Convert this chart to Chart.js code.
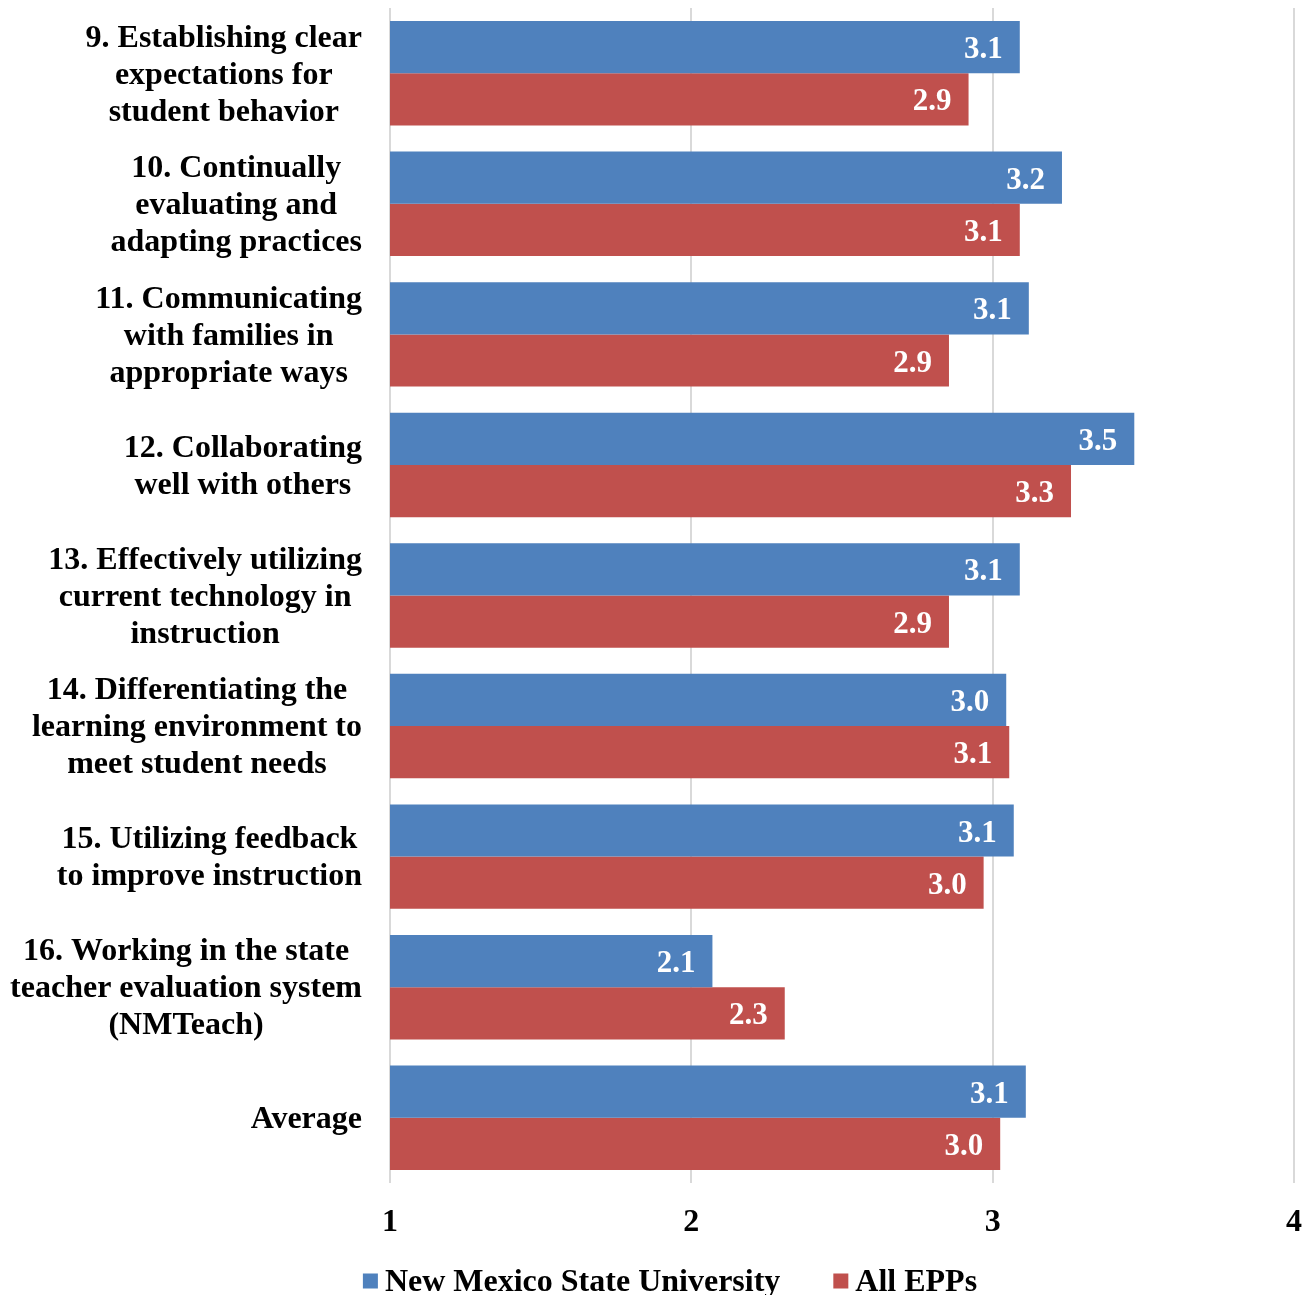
<!DOCTYPE html>
<html>
<head>
<meta charset="utf-8">
<script src="https://cdn.jsdelivr.net/npm/chart.js@4/dist/chart.umd.min.js"></script>
<style>
  html, body { margin: 0; padding: 0; background: #fff; }
  #wrap { width: 1309px; height: 1295px; }
</style>
</head>
<body>
<div id="wrap"><canvas id="chart"></canvas></div>
<script>
// categories (one array of lines per label)
const categories = [
  ["9. Establishing clear", "expectations for", "student behavior"],
  ["10. Continually", "evaluating and", "adapting practices"],
  ["11. Communicating", "with families in", "appropriate ways"],
  ["12. Collaborating", "well with others"],
  ["13. Effectively utilizing", "current technology in", "instruction"],
  ["14. Differentiating the", "learning environment to", "meet student needs"],
  ["15. Utilizing feedback", "to improve instruction"],
  ["16. Working in the state", "teacher evaluation system", "(NMTeach)"],
  ["Average"]
];

const nmsuValues = [3.09, 3.23, 3.12, 3.47, 3.09, 3.045, 3.07, 2.07, 3.11];
const allEppValues = [2.92, 3.09, 2.855, 3.26, 2.855, 3.055, 2.97, 2.31, 3.025];

const seriesNames = ["New Mexico State University", "All EPPs"];
const xTicks = [1, 2, 3, 4];

const FONT = "'Liberation Serif', 'Times New Roman', serif";
const BLUE = "#4F81BD";
const RED = "#C0504D";

// category labels: each block centred on itself, right edge flush to the axis
const categoryLabels = {
  id: "categoryLabels",
  afterDraw(chart) {
    const ctx = chart.ctx;
    const y = chart.scales.y;
    const right = chart.chartArea.left - 28;
    const lh = 37;
    ctx.save();
    ctx.font = "bold 32px " + FONT;
    ctx.fillStyle = "#000";
    ctx.textAlign = "center";
    ctx.textBaseline = "middle";
    categories.forEach((lines, i) => {
      const w = Math.max(...lines.map(l => ctx.measureText(l).width));
      const cx = right - w / 2;
      const cy = y.getPixelForValue(i) + 2;
      const y0 = cy - (lines.length - 1) * lh / 2;
      lines.forEach((l, k) => ctx.fillText(l, cx, y0 + k * lh));
    });
    ctx.restore();
  }
};

// white value labels inside bar ends
const valueLabels = {
  id: "valueLabels",
  afterDatasetsDraw(chart) {
    const ctx = chart.ctx;
    ctx.save();
    ctx.font = "bold 31px " + FONT;
    ctx.fillStyle = "#fff";
    ctx.textAlign = "right";
    ctx.textBaseline = "middle";
    chart.data.datasets.forEach((ds, di) => {
      chart.getDatasetMeta(di).data.forEach((bar, i) => {
        ctx.fillText(ds.data[i].toFixed(1), bar.x - 17, bar.y + 3);
      });
    });
    ctx.restore();
  }
};

// legend at the bottom
const bottomLegend = {
  id: "bottomLegend",
  afterDraw(chart) {
    const ctx = chart.ctx;
    const box = 15, gap = 7, itemGap = 53;
    const cy = 1283;
    ctx.save();
    ctx.font = "bold 32px " + FONT;
    ctx.textBaseline = "middle";
    ctx.textAlign = "left";
    const items = chart.data.datasets.map(ds => ({
      text: ds.label, color: ds.backgroundColor,
      w: box + gap + ctx.measureText(ds.label).width
    }));
    const total = items.reduce((s, it) => s + it.w, 0) + itemGap * (items.length - 1);
    let x = 670 - total / 2;
    items.forEach(it => {
      ctx.fillStyle = it.color;
      ctx.fillRect(x, cy - 2 - box / 2, box, box);
      ctx.fillStyle = "#000";
      ctx.fillText(it.text, x + box + gap, cy);
      x += it.w + itemGap;
    });
    ctx.restore();
  }
};

new Chart(document.getElementById("chart"), {
  type: "bar",
  data: {
    labels: categories.map(c => c.join(" ")),
    datasets: [
      { label: seriesNames[0], data: nmsuValues, backgroundColor: BLUE },
      { label: seriesNames[1], data: allEppValues, backgroundColor: RED }
    ]
  },
  options: {
    indexAxis: "y",
    responsive: true,
    maintainAspectRatio: false,
    animation: false,
    layout: { padding: { top: 8, right: 15, left: 0, bottom: 0 } },
    datasets: { bar: { categoryPercentage: 0.8, barPercentage: 1.0 } },
    plugins: {
      legend: { display: false },
      tooltip: { enabled: false }
    },
    scales: {
      x: {
        min: 1,
        max: 4,
        beginAtZero: false,
        afterBuildTicks: s => { s.ticks = xTicks.map(v => ({ value: v })); },
        afterFit: s => { s.height = 112; s.paddingRight = 0; s.paddingLeft = 0; },
        grid: { color: "#d9d9d9", lineWidth: 2, drawTicks: false },
        border: { display: false },
        ticks: {
          padding: 21,
          color: "#000",
          font: { family: FONT, size: 32, weight: "bold" }
        }
      },
      y: {
        afterFit: s => { s.width = 390; },
        grid: { display: false },
        border: { display: false },
        ticks: { display: false }
      }
    }
  },
  plugins: [categoryLabels, valueLabels, bottomLegend]
});
</script>
</body>
</html>
